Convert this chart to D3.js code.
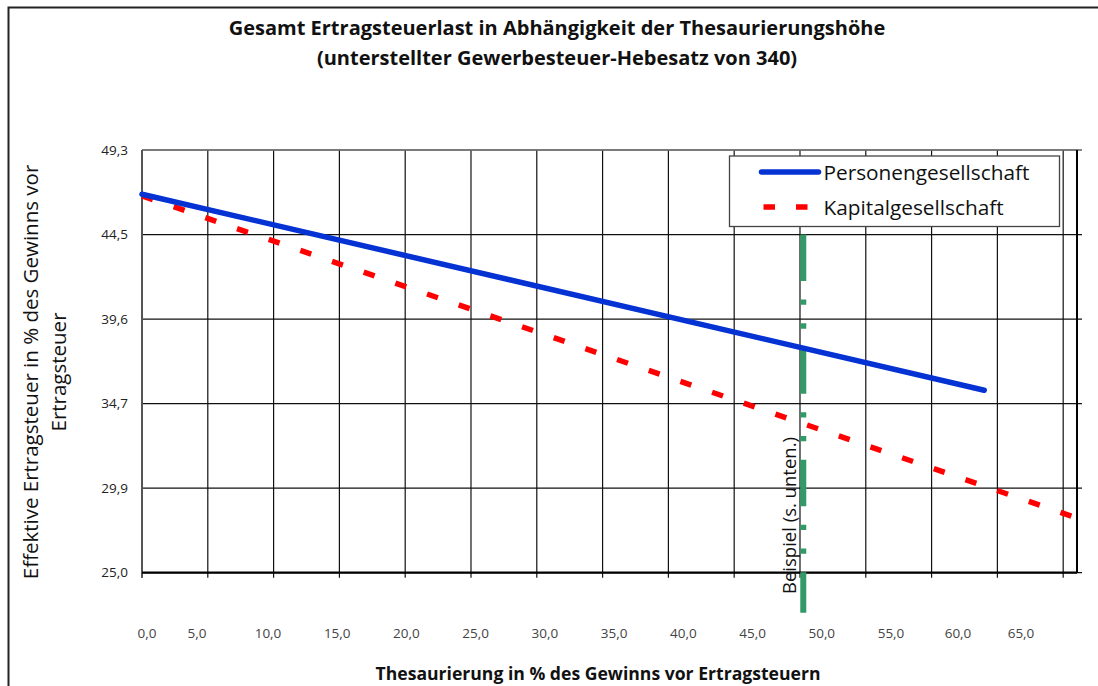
<!DOCTYPE html>
<html>
<head>
<meta charset="utf-8">
<script src="https://cdn.jsdelivr.net/npm/d3@7"></script>
<style>
	body { margin: 0; background: #fff; }
	svg { display: block; font-family: "Open Sans", Lato, sans-serif; }
</style>
</head>
<body>
<div id="chart"></div>
<script>
// Data
var thesPerson = [0, 64];
var ertragPerson = [46.78, 35.5];
var thesKapital = [0, 71];
var ertragKapital = [46.69, 28.16];
var beispielX = [50.25, 50.25];
var beispielY = [44.46, 22.7];

var xGridTicks = [0, 5, 10, 15, 20, 25, 30, 35, 40, 45, 50, 55, 60, 65, 70];
var xLabelTicks = [0, 5, 10, 15, 20, 25, 30, 35, 40, 45, 50, 55, 60, 65];
var yTicks = [25, 29.865, 34.73, 39.595, 44.46, 49.325];

var width = 1098, height = 686;
var plot = {left: 142, right: 1077, top: 150, bottom: 572.7};

var svg = d3.select("#chart").append("svg")
	.attr("width", width)
	.attr("height", height);

var x = d3.scaleLinear().domain([0, 71.05]).range([plot.left, plot.right]);
var y = d3.scaleLinear().domain([25, 49.325]).range([plot.bottom, plot.top]);
// the category labels sit a bit off the grid in the original
var xLabel = d3.scaleLinear()
	.domain([0, 5, 10, 55, 60, 65])
	.range([147, 197, 268, 891, 958, 1021]);

var comma = function(v) { return d3.format(".1f")(v).replace(".", ","); };

// outer frame (top and left only)
svg.append("path")
	.attr("d", "M8.5,686 L8.5,7.5 L1098,7.5")
	.attr("fill", "none")
	.attr("stroke", "#222")
	.attr("stroke-width", 2);

// title
var title = svg.append("text")
	.attr("text-anchor", "middle")
	.attr("font-weight", "bold")
	.attr("font-size", 20)
	.attr("fill", "#111");
title.append("tspan").attr("x", 557).attr("y", 35)
	.text("Gesamt Ertragsteuerlast in Abhängigkeit der Thesaurierungshöhe");
title.append("tspan").attr("x", 557).attr("y", 65)
	.text("(unterstellter Gewerbesteuer-Hebesatz von 340)");

// grid
var grid = svg.append("g").attr("stroke", "#111").attr("stroke-width", 1.2);
grid.selectAll("line.v").data(xGridTicks).enter().append("line")
	.attr("class", "v")
	.attr("x1", function(d) { return x(d); })
	.attr("x2", function(d) { return x(d); })
	.attr("y1", plot.top)
	.attr("y2", plot.bottom + 5);
grid.selectAll("line.h").data(yTicks).enter().append("line")
	.attr("class", "h")
	.attr("x1", plot.left)
	.attr("x2", plot.right + 5)
	.attr("y1", function(d) { return y(d); })
	.attr("y2", function(d) { return y(d); });

// borders of plot area
svg.append("line")
	.attr("x1", plot.left).attr("x2", plot.right)
	.attr("y1", plot.top).attr("y2", plot.top)
	.attr("stroke", "#777").attr("stroke-width", 1.5);
svg.append("line")
	.attr("x1", plot.left).attr("x2", plot.left)
	.attr("y1", plot.top).attr("y2", plot.bottom + 5)
	.attr("stroke", "#555").attr("stroke-width", 2);
svg.append("line")
	.attr("x1", plot.right).attr("x2", plot.right)
	.attr("y1", plot.top).attr("y2", plot.bottom)
	.attr("stroke", "#000").attr("stroke-width", 2);
svg.append("line")
	.attr("x1", plot.left).attr("x2", plot.right)
	.attr("y1", plot.bottom).attr("y2", plot.bottom)
	.attr("stroke", "#000").attr("stroke-width", 2.2);

// y tick labels
svg.append("g").selectAll("text").data(yTicks).enter().append("text")
	.attr("x", 128)
	.attr("y", function(d) { return y(d); })
	.attr("dy", "0.35em")
	.attr("text-anchor", "end")
	.attr("font-size", 13.5)
	.attr("fill", "#222")
	.text(comma);

// x tick labels
svg.append("g").selectAll("text").data(xLabelTicks).enter().append("text")
	.attr("x", function(d) { return xLabel(d); })
	.attr("y", 638)
	.attr("text-anchor", "middle")
	.attr("font-size", 13.5)
	.attr("fill", "#444")
	.text(comma);

// axis titles
svg.append("text")
	.attr("x", 598)
	.attr("y", 680)
	.attr("text-anchor", "middle")
	.attr("font-weight", "bold")
	.attr("font-size", 17.6)
	.attr("fill", "#111")
	.text("Thesaurierung in % des Gewinns vor Ertragsteuern");

var ytitle = svg.append("text")
	.attr("transform", "translate(0,372) rotate(-90)")
	.attr("text-anchor", "middle")
	.attr("font-size", 20.5)
	.attr("fill", "#111");
ytitle.append("tspan").attr("x", 0).attr("y", 38)
	.text("Effektive Ertragsteuer in % des Gewinns vor");
ytitle.append("tspan").attr("x", 0).attr("y", 66)
	.text("Ertragsteuer");

// lines
var line = d3.line()
	.x(function(d) { return x(d[0]); })
	.y(function(d) { return y(d[1]); });

svg.append("path")
	.datum(d3.zip(beispielX, beispielY))
	.attr("d", line)
	.attr("fill", "none")
	.attr("stroke", "#339966")
	.attr("stroke-width", 6)
	.attr("stroke-dasharray", "46.5,18.5,5.3,18.5,5.3,18.5");

svg.append("text")
	.attr("transform", "translate(" + (x(50.25) - 7) + "," + 594 + ") rotate(-90)")
	.attr("font-size", 18.5)
	.attr("fill", "#111")
	.text("Beispiel (s. unten.)");

svg.append("path")
	.datum(d3.zip(thesKapital, ertragKapital))
	.attr("d", line)
	.attr("fill", "none")
	.attr("stroke", "#ff0000")
	.attr("stroke-width", 5.5)
	.attr("stroke-dasharray", "11.5,22");

svg.append("path")
	.datum(d3.zip(thesPerson, ertragPerson))
	.attr("d", line)
	.attr("fill", "none")
	.attr("stroke", "#0532d2")
	.attr("stroke-width", 5.5)
	.attr("stroke-linecap", "round");

// legend
var legend = svg.append("g").attr("transform", "translate(729.5,156)");
legend.append("rect")
	.attr("width", 330)
	.attr("height", 70.5)
	.attr("fill", "#fff")
	.attr("stroke", "#444")
	.attr("stroke-width", 1.3);
legend.append("line")
	.attr("x1", 32).attr("x2", 89)
	.attr("y1", 16).attr("y2", 16)
	.attr("stroke", "#0532d2")
	.attr("stroke-width", 5.5)
	.attr("stroke-linecap", "round");
legend.append("line")
	.attr("x1", 34).attr("x2", 79)
	.attr("y1", 51).attr("y2", 51)
	.attr("stroke", "#ff0000")
	.attr("stroke-width", 5.5)
	.attr("stroke-dasharray", "11.5,21");
legend.append("text")
	.attr("x", 94).attr("y", 24)
	.attr("font-size", 20.8)
	.attr("fill", "#111")
	.text("Personengesellschaft");
legend.append("text")
	.attr("x", 94).attr("y", 59)
	.attr("font-size", 20.8)
	.attr("fill", "#111")
	.text("Kapitalgesellschaft");
</script>
</body>
</html>
